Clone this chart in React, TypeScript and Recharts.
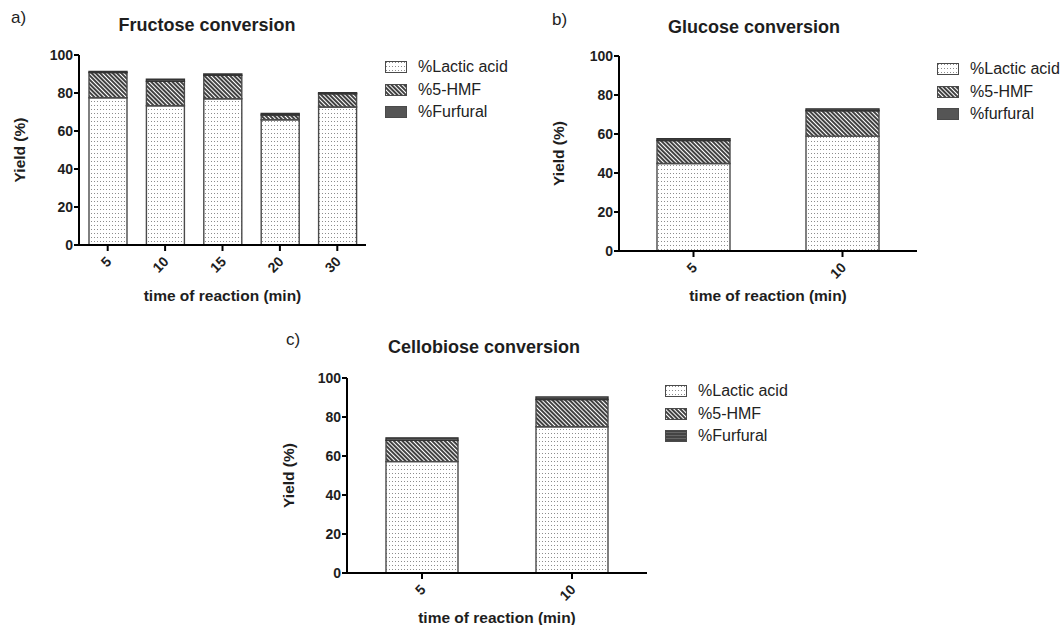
import React from 'react'
import { Bar, BarChart, Legend, XAxis, YAxis } from 'recharts'

/* Three stacked-bar panels: product yields from fructose, glucose and cellobiose. */

const fructoseTimes = ['5', '10', '15', '20', '30']
const fructoseLactic = [77.5, 73.3, 77.0, 65.9, 72.6]
const fructoseHmf = [13.2, 12.8, 12.3, 2.5, 7.0]
const fructoseFurfural = [0.7, 1.1, 0.7, 0.8, 0.6]

const glucoseTimes = ['5', '10']
const glucoseLactic = [44.9, 58.9]
const glucoseHmf = [11.8, 13.0]
const glucoseFurfural = [0.9, 1.0]

const cellobioseTimes = ['5', '10']
const cellobioseLactic = [57.1, 75.0]
const cellobioseHmf = [10.9, 14.0]
const cellobioseFurfural = [1.3, 1.3]

const yieldTicks = [0, 20, 40, 60, 80, 100]

const FONT = '"Liberation Sans", Arial, sans-serif'
const INK = '#1e1e1e'
const OUTLINE = '#4a4a4a'

function buildRows(times: string[], lactic: number[], hmf: number[], furfural: number[]) {
  return times.map((t, i) => ({ time: t, lactic: lactic[i], hmf: hmf[i], furfural: furfural[i] }))
}

interface PanelProps {
  id: string
  letter: string
  title: string
  rows: ReturnType<typeof buildRows>
  left: number
  top: number
  width: number
  height: number
  margin: { top: number; right: number; bottom: number; left: number }
  yAxisWidth: number
  xAxisHeight: number
  barSize: number
  yLabelX: number
  xLabelY: number
  titleX: number
  titleY: number
  letterX: number
  letterY: number
  legendX: number
  legendY: number
  furfuralName: string
  striped: boolean
}

function Patterns({ id, striped }: { id: string; striped: boolean }) {
  return (
    <defs>
      <pattern id={`${id}-dots`} width={3} height={4} patternUnits="userSpaceOnUse">
        <rect width={3} height={4} fill="#fff" />
        <rect x={1} y={1} width={1} height={1} fill="#8c8c8c" />
      </pattern>
      <pattern id={`${id}-hatch`} width={3} height={3} patternUnits="userSpaceOnUse"
               patternTransform="rotate(-45)">
        <rect width={3} height={3} fill="#fff" />
        <line x1={1} y1={0} x2={1} y2={3} stroke="#111" strokeWidth={1.6} />
      </pattern>
      <pattern id={`${id}-furf`} width={3} height={3} patternUnits="userSpaceOnUse">
        <rect width={3} height={3} fill={striped ? '#666' : '#555'} />
        {striped && <line x1={0} y1={1} x2={3} y2={1} stroke="#222" strokeWidth={1} />}
      </pattern>
    </defs>
  )
}

function Panel(p: PanelProps) {
  const plotLeft = p.margin.left + p.yAxisWidth
  const plotWidth = p.width - plotLeft - p.margin.right
  const plotTop = p.margin.top
  const plotHeight = p.height - p.margin.top - p.margin.bottom - p.xAxisHeight

  const legendItems = [
    { name: '%Lactic acid', fill: `url(#${p.id}-dots)` },
    { name: '%5-HMF', fill: `url(#${p.id}-hatch)` },
    { name: p.furfuralName, fill: `url(#${p.id}-furf)` },
  ]

  const renderLegend = () => (
    <div style={{ fontFamily: FONT, fontSize: 16, color: '#222' }}>
      {legendItems.map((item) => (
        <div key={item.name} style={{ display: 'flex', alignItems: 'center', height: 22.5, whiteSpace: 'nowrap' }}>
          <svg width={22} height={12} style={{ marginRight: 11 }}>
            <rect x={0.5} y={0.5} width={21} height={11} fill={item.fill} stroke={OUTLINE} strokeWidth={1} />
          </svg>
          {item.name}
        </div>
      ))}
    </div>
  )

  const XTick = ({ x, y, payload }: any) => (
    <text x={x + 1} y={y + 6} transform={`rotate(-45, ${x + 1}, ${y + 6})`} textAnchor="end"
          dominantBaseline="central" fontFamily={FONT} fontWeight="bold" fontSize={14} fill={INK}>
      {payload.value}
    </text>
  )

  return (
    <div style={{ position: 'absolute', left: p.left, top: p.top, width: p.width, height: p.height }}>
      <div style={{ position: 'absolute', left: p.letterX, top: p.letterY - 10, fontFamily: FONT,
                    fontSize: 17, lineHeight: '20px', color: INK }}>{p.letter}</div>
      <div style={{ position: 'absolute', left: p.titleX - 150, width: 300, top: p.titleY - 11, textAlign: 'center',
                    fontFamily: FONT, fontWeight: 'bold', fontSize: 18, lineHeight: '22px', color: INK }}>
        {p.title}
      </div>
      <BarChart width={p.width} height={p.height} data={p.rows} margin={p.margin} barSize={p.barSize}
                style={{ position: 'absolute', left: 0, top: 0 }}>
        <Patterns id={p.id} striped={p.striped} />
        <XAxis dataKey="time" height={p.xAxisHeight} stroke="#000" strokeWidth={2} tickSize={6}
               tick={<XTick />} interval={0}
               label={{
                 content: () => (
                   <text x={plotLeft + plotWidth / 2} y={p.xLabelY} textAnchor="middle" dominantBaseline="central"
                         fontFamily={FONT} fontWeight="bold" fontSize={15.5} fill={INK}>
                     time of reaction (min)
                   </text>
                 ),
               }} />
        <YAxis type="number" domain={[0, 100]} ticks={yieldTicks} width={p.yAxisWidth} stroke="#000"
               strokeWidth={2} tickSize={5} tickMargin={1} interval={0}
               tick={{ fontFamily: FONT, fontWeight: 'bold', fontSize: 14, fill: INK }}
               label={{
                 content: () => (
                   <text x={p.yLabelX} y={plotTop + plotHeight / 2} textAnchor="middle" dominantBaseline="central"
                         transform={`rotate(-90, ${p.yLabelX}, ${plotTop + plotHeight / 2})`}
                         fontFamily={FONT} fontWeight="bold" fontSize={15.5} fill={INK}>
                     Yield (%)
                   </text>
                 ),
               }} />
        <Legend layout="vertical" verticalAlign="middle" align="center" content={renderLegend}
                wrapperStyle={{ position: 'absolute', left: p.legendX, top: p.legendY, width: 'auto', margin: 0 }} />
        <Bar dataKey="lactic" name="%Lactic acid" stackId="s" fill={`url(#${p.id}-dots)`} stroke={OUTLINE}
             strokeWidth={1.4} isAnimationActive={false} />
        <Bar dataKey="hmf" name="%5-HMF" stackId="s" fill={`url(#${p.id}-hatch)`} stroke={OUTLINE}
             strokeWidth={1.4} isAnimationActive={false} />
        <Bar dataKey="furfural" name={p.furfuralName} stackId="s" fill={`url(#${p.id}-furf)`} stroke="#333"
             strokeWidth={1.4} isAnimationActive={false} />
      </BarChart>
    </div>
  )
}

export default function App() {
  return (
    <div style={{ position: 'absolute', left: 0, top: 0, width: 1062, height: 625, background: '#fff', overflow: 'hidden' }}>
      <Panel id="fru" letter="a)" title="Fructose conversion"
             rows={buildRows(fructoseTimes, fructoseLactic, fructoseHmf, fructoseFurfural)}
             left={0} top={0} width={540} height={310}
             margin={{ top: 55, right: 174, bottom: 0, left: 0 }} yAxisWidth={79} xAxisHeight={65} barSize={38}
             yLabelX={19} xLabelY={295} titleX={207} titleY={25} letterX={11} letterY={18}
             legendX={385} legendY={56} furfuralName="%Furfural" striped={false} />
      <Panel id="glu" letter="b)" title="Glucose conversion"
             rows={buildRows(glucoseTimes, glucoseLactic, glucoseHmf, glucoseFurfural)}
             left={540} top={0} width={522} height={310}
             margin={{ top: 56, right: 145, bottom: 0, left: 0 }} yAxisWidth={79} xAxisHeight={59} barSize={73}
             yLabelX={18} xLabelY={295} titleX={214} titleY={27} letterX={12} letterY={20}
             legendX={397} legendY={58} furfuralName="%furfural" striped={false} />
      <Panel id="cel" letter="c)" title="Cellobiose conversion"
             rows={buildRows(cellobioseTimes, cellobioseLactic, cellobioseHmf, cellobioseFurfural)}
             left={280} top={320} width={480} height={305}
             margin={{ top: 58, right: 113, bottom: 0, left: 0 }} yAxisWidth={67} xAxisHeight={52} barSize={72}
             yLabelX={8} xLabelY={297} titleX={204} titleY={27} letterX={6} letterY={20}
             legendX={385} legendY={60} furfuralName="%Furfural" striped={true} />
    </div>
  )
}
